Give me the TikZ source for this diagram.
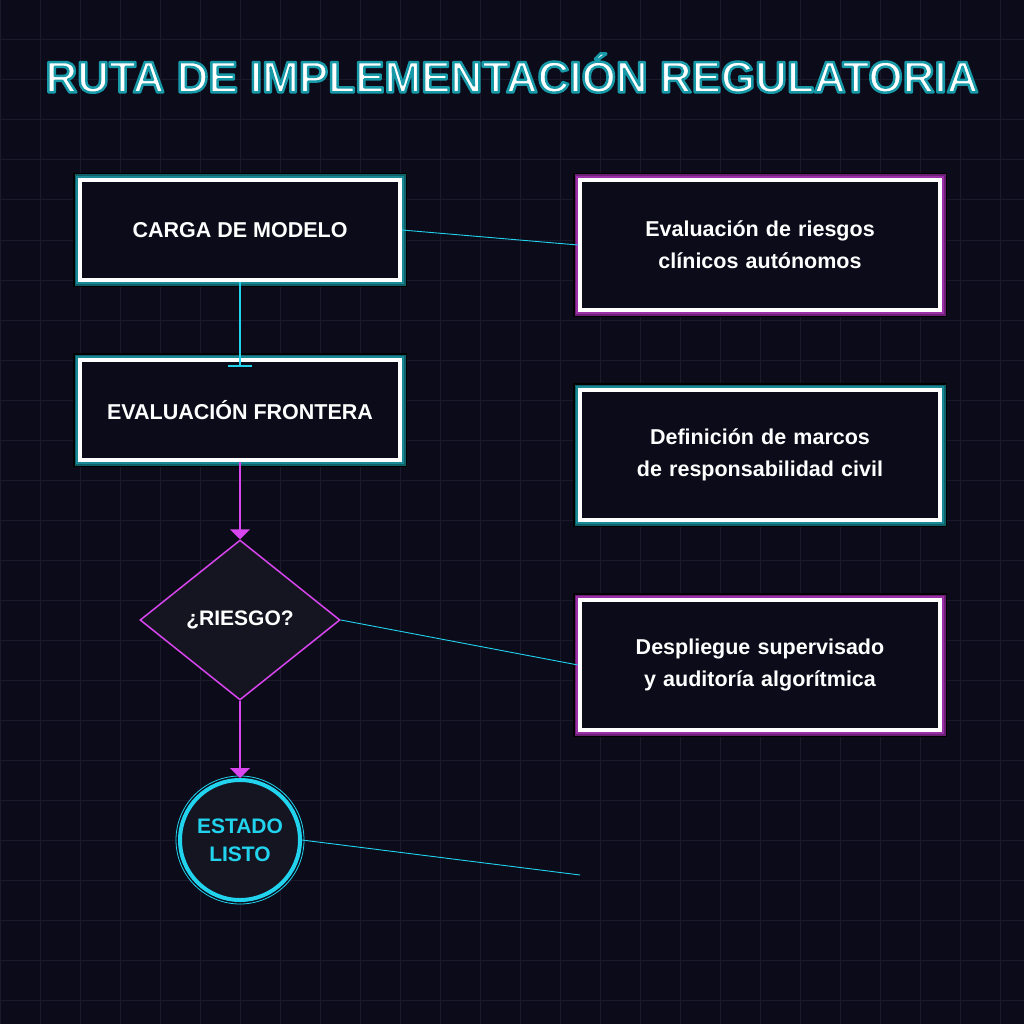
\documentclass[tikz,border=0pt]{standalone}
\usepackage{fontspec}
\setmainfont{Liberation Sans}
\usetikzlibrary{shapes.geometric,arrows.meta}
\definecolor{bg}{HTML}{0B0B1A}
\definecolor{gridc}{HTML}{1A1A2C}
\definecolor{cyn}{HTML}{22D3EE}
\definecolor{teal}{HTML}{178A96}
\definecolor{mag}{HTML}{D946EF}
\definecolor{purp}{HTML}{9A2FA8}
\definecolor{dfill}{HTML}{151522}
\tikzset{
  x=1pt,y=-1pt,
  box/.style={draw=white,line width=4pt,fill=bg,minimum width=320pt,minimum height=100pt,font=\bfseries\fontsize{21.5}{32}\selectfont,text=white,align=center},
  rbox/.style={box,minimum width=360pt,minimum height=130pt,text width=352pt,inner sep=2pt},
  gbox/.style={draw=none,fill=none,outer sep=0pt,inner sep=0pt,minimum width=#1},
  thin/.style={draw=cyn,line width=0.9pt},
  flow/.style={draw=mag,line width=2pt,-{Triangle[width=20pt,length=10pt]}},
}
\newcommand{\glowbox}[2]{%
  \fill[black] ([shift={(-7,-7)}]#1.north west) rectangle ([shift={(7,7)}]#1.south east);
  \fill[#2!70!black] ([shift={(-5.5,-5.5)}]#1.north west) rectangle ([shift={(5.5,5.5)}]#1.south east);
  \fill[#2] ([shift={(-4,-4)}]#1.north west) rectangle ([shift={(4,4)}]#1.south east);}
\begin{document}
\begin{tikzpicture}
\fill[bg] (0,0) rectangle (1024,1024);
\useasboundingbox (0,0) rectangle (1024,1024);
\foreach \i in {0,40,...,1000}{\draw[gridc,line width=1pt] (\i,0)--(\i,1024); \draw[gridc,line width=1pt] (0,\i)--(1024,\i);}
% title
\node[text=white,font=\bfseries\fontsize{44}{50}\selectfont] (title) at (512,73)
  {\special{pdf:literal direct 2 Tr 1 j 2.5 w 0.09 0.60 0.66 RG}RUTA DE IMPLEMENTACIÓN REGULATORIA\special{pdf:literal direct 0 Tr}};
% glow frames
\path (240,230) coordinate (p1) (240,410) coordinate (p2) (760,245) coordinate (q1) (760,455) coordinate (q2) (760,665) coordinate (q3);
\path node[gbox=320pt,minimum height=100pt] (g1) at (p1) {}
      node[gbox=320pt,minimum height=100pt] (g2) at (p2) {}
      node[gbox=360pt,minimum height=130pt] (h1) at (q1) {}
      node[gbox=360pt,minimum height=130pt] (h2) at (q2) {}
      node[gbox=360pt,minimum height=130pt] (h3) at (q3) {};
\glowbox{g1}{teal}\glowbox{g2}{teal}\glowbox{h1}{purp}\glowbox{h2}{teal}\glowbox{h3}{purp}
\node[box] (b1) at (p1) {CARGA DE MODELO};
\node[box] (b2) at (p2) {EVALUACIÓN FRONTERA};
\node[diamond,draw=mag,line width=1.5pt,fill=dfill,minimum width=200pt,minimum height=160pt,inner sep=0pt,aspect=1.25,text=white,font=\bfseries\fontsize{21}{24}\selectfont] (d) at (240,620) {¿RIESGO?};
\node[circle,draw=cyn,line width=4pt,fill=dfill,minimum size=120pt,inner sep=0pt,align=center,text=cyn,font=\bfseries\fontsize{21}{28}\selectfont] (c) at (240,840) {ESTADO\\LISTO};
\draw[cyn,line width=0.8pt] (c) circle (64);
\node[rbox] (r1) at (q1) {Evaluación de riesgos clínicos autónomos};
\node[rbox] (r2) at (q2) {Definición de marcos de responsabilidad civil};
\node[rbox] (r3) at (q3) {Despliegue supervisado y auditoría algorítmica};
\coordinate (e) at (580,875);
% connectors
\draw[cyn,line width=2pt,-{Bar[width=24pt]}] (b1.south) -- ([yshift=-9pt]b2.north);
\draw[flow] (b2.south) -- (d.north);
\draw[flow] (d.south) -- (c.north);
\draw[thin] (b1.east) -- (r1.west);
\draw[thin] (d.east) -- (r3.west);
\draw[thin] (c.east) -- (e);
\end{tikzpicture}
\end{document}
